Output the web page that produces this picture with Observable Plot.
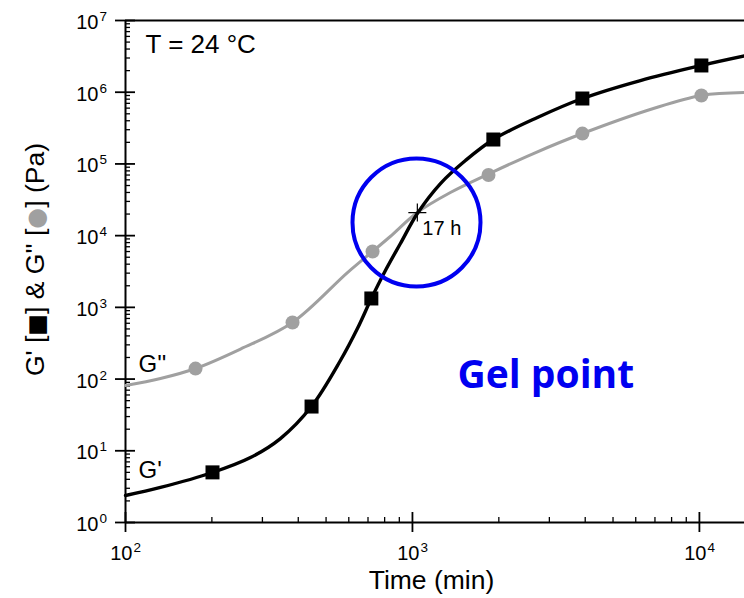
<!DOCTYPE html>
<html><head><meta charset="utf-8">
<script src="https://cdn.jsdelivr.net/npm/d3@7"></script>
<script src="https://cdn.jsdelivr.net/npm/@observablehq/plot@0.6"></script>
<style>html,body{margin:0;padding:0;background:#fff} svg{display:block}</style>
</head><body><div id="chart"></div>
<script>
// G' (storage modulus) trace, time (min) vs Pa
const gpTime  = [100, 132.4, 201, 272.6, 346.6, 444.6, 561, 643, 719, 805, 908, 1040, 1252, 1530, 1914, 2726, 3910, 6229, 10160, 14360];
const gpValue = [2.38, 3.08, 4.98, 8.05, 14.8, 41.4, 181.5, 507, 1328, 3266, 7770, 20360, 53300, 111600, 219000, 444000, 817000, 1.456e6, 2.36e6, 3.2e6];
// G'' (loss modulus) trace
const gppTime  = [100, 132.4, 175.4, 251.6, 381.6, 593.6, 725.5, 837, 1040, 1356, 1825, 2640, 3910, 6913, 10160, 14360];
const gppValue = [81.3, 101.8, 140.4, 262, 615, 3060, 6010, 9730, 21040, 39900, 71200, 139700, 265500, 593000, 900000, 990000];
// symbol markers
const gpMarkTime   = [201, 445, 719, 1914, 3910, 10160];
const gpMarkValue  = [5.0, 41.4, 1330, 219000, 817000, 2.36e6];
const gppMarkTime  = [175.4, 382, 726, 1841, 3910, 10160];
const gppMarkValue = [140, 615, 6010, 70000, 265000, 900000];
// crossover (gel point) and highlight circle centre
const crossTime = [1040], crossValue = [21000];
const ringTime = [1033], ringValue = [15240];
// axes
const xMajor = [1e2, 1e3, 1e4];
const xMinor = [200,300,400,500,600,700,800,900,2000,3000,4000,5000,6000,7000,8000,9000];
const yMajor = [1e0,1e1,1e2,1e3,1e4,1e5,1e6,1e7];
const yMinor = [];
for (let e = 0; e < 7; e++) for (let m = 2; m <= 9; m++) yMinor.push(m * 10 ** e);
// annotation labels
const labels = [
  {t: 111, v: 127, text: "G''"},
  {t: 111, v: 4.24, text: "G'"}
];

const gray = "#a0a0a0";
const blue = "#0000f0";
const plusSymbol = {draw(ctx, size) { const r = Math.sqrt(size / Math.PI); ctx.moveTo(-r, 0); ctx.lineTo(r, 0); ctx.moveTo(0, -r); ctx.lineTo(0, r); }};

const chart = Plot.plot({
  width: 744, height: 598,
  marginLeft: 125, marginRight: 0, marginTop: 20, marginBottom: 76,
  x: {type: "log", domain: [100, 14360], axis: null},
  y: {type: "log", domain: [1, 1e7], axis: null},
  style: {fontFamily: "'Liberation Sans', Arial, sans-serif", background: "#fff", color: "#000"},
  marks: [
    // frame lines
    Plot.ruleX([100], {strokeWidth: 2}),
    Plot.ruleY([1], {strokeWidth: 2}),
    Plot.ruleY([1e7], {strokeWidth: 2}),
    // ticks
    Plot.axisY({anchor: "left", ticks: yMajor, tickSize: 20, dx: 10, fill: "none", strokeWidth: 1.8}),
    Plot.axisY({anchor: "left", ticks: yMinor, tickSize: 5, dx: 5, fill: "none", strokeWidth: 1.3}),
    Plot.axisX({anchor: "bottom", ticks: xMajor, tickSize: 20, dy: -10, fill: "none", strokeWidth: 1.8}),
    Plot.axisX({anchor: "bottom", ticks: xMinor, tickSize: 5, dy: -5, fill: "none", strokeWidth: 1.3}),
    // tick labels
    Plot.text(yMajor, {y: d => d, frameAnchor: "left", text: () => "10", dx: -27, dy: 8.5, textAnchor: "end", lineAnchor: "bottom", fontSize: 20}),
    Plot.text(yMajor, {y: d => d, frameAnchor: "left", text: d => String(Math.round(Math.log10(d))), dx: -26, dy: 0.5, textAnchor: "start", lineAnchor: "bottom", fontSize: 13.5}),
    Plot.text(xMajor, {x: d => d, frameAnchor: "bottom", text: () => "10", dx: 7, dy: 37, textAnchor: "end", lineAnchor: "bottom", fontSize: 20}),
    Plot.text(xMajor, {x: d => d, frameAnchor: "bottom", text: d => String(Math.round(Math.log10(d))), dx: 8, dy: 29.5, textAnchor: "start", lineAnchor: "bottom", fontSize: 13.5}),
    // axis titles
    Plot.text(["Time (min)"], {frameAnchor: "bottom", text: d => d, dx: -3.5, dy: 66, textAnchor: "middle", lineAnchor: "bottom", fontSize: 26.5}),
    Plot.text(["G' [■] & G'' [●] (Pa)"], {frameAnchor: "left", text: d => d, rotate: -90, dx: -82, dy: -12, textAnchor: "middle", lineAnchor: "bottom", fontSize: 26.5}),
    // curves
    Plot.line(gppTime, {x: gppTime, y: gppValue, stroke: gray, strokeWidth: 3, curve: "catmull-rom"}),
    Plot.line(gpTime, {x: gpTime, y: gpValue, stroke: "#000", strokeWidth: 3.4, curve: "catmull-rom"}),
    Plot.dot(gppMarkTime, {x: gppMarkTime, y: gppMarkValue, r: 7, fill: gray, stroke: "none"}),
    Plot.dot(gpMarkTime, {x: gpMarkTime, y: gpMarkValue, r: 7.9, symbol: "square", fill: "#000", stroke: "none"}),
    // gel point annotations
    Plot.dot(crossTime, {x: crossTime, y: crossValue, r: 9, symbol: plusSymbol, stroke: "#000", fill: "none", strokeWidth: 1.2}),
    Plot.text(crossTime, {x: crossTime, y: crossValue, text: () => "17 h", dx: 5, dy: 22, textAnchor: "start", lineAnchor: "bottom", fontSize: 20}),
    Plot.dot(ringTime, {x: ringTime, y: ringValue, r: 64, stroke: blue, fill: "none", strokeWidth: 4}),
    Plot.text(["Gel point"], {x: () => 1436, y: () => 76.2, text: d => d, textAnchor: "start", lineAnchor: "bottom", fontSize: 39, fontWeight: "bold", fontFamily: "'Open Sans', sans-serif", fill: blue}),
    // other labels
    Plot.text(["T = 24 °C"], {frameAnchor: "top-left", text: d => d, dx: 20, dy: 32, textAnchor: "start", lineAnchor: "bottom", fontSize: 26}),
    Plot.text(labels, {x: "t", y: "v", text: "text", textAnchor: "start", lineAnchor: "bottom", fontSize: 24})
  ]
});
document.getElementById("chart").appendChild(chart);

// enlarge and colour the glyphs inside the y-axis title
d3.select(chart).selectAll("text").each(function() {
  const s = this.textContent;
  if (s.includes("●")) {
    const el = d3.select(this);
    el.text("");
    el.append("tspan").text("G' [");
    el.append("tspan").attr("font-family", "'DejaVu Sans'").attr("font-size", 23).text("■");
    el.append("tspan").text("] & G'' [");
    el.append("tspan").attr("font-family", "'DejaVu Sans'").attr("font-size", 24).attr("fill", gray).text("●");
    el.append("tspan").text("] (Pa)");
  }
});
</script>
</body></html>
